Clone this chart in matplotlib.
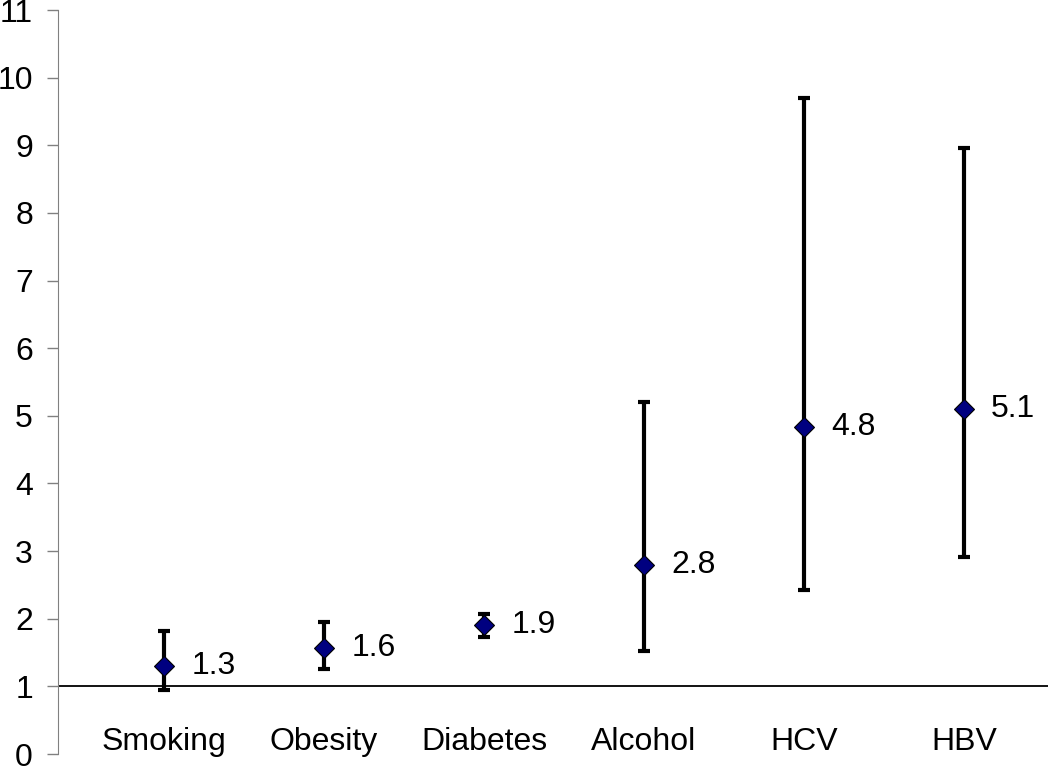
import matplotlib
matplotlib.use("Agg")
import matplotlib.pyplot as plt
import numpy as np

# Risk factors with point estimate and confidence interval
categories = ["Smoking", "Obesity", "Diabetes", "Alcohol", "HCV", "HBV"]
estimates = [1.3, 1.56, 1.9, 2.8, 4.84, 5.1]
labels = ["1.3", "1.6", "1.9", "2.8", "4.8", "5.1"]
lower = [0.95, 1.25, 1.73, 1.52, 2.42, 2.91]
upper = [1.82, 1.95, 2.07, 5.2, 9.7, 8.96]

plt.rcParams['font.family'] = ['Liberation Sans', 'DejaVu Sans']

fig = plt.figure(figsize=(10.5, 7.68), dpi=100)
ax = fig.add_axes([58 / 1050, 14 / 768, 990 / 1050, 744 / 768])

x = np.arange(1, len(categories) + 1)
est = np.array(estimates)
yerr = [est - np.array(lower), np.array(upper) - est]

ax.axhline(1, color='black', lw=1.3, zorder=1)
ax.errorbar(x, est, yerr=yerr, fmt='none', ecolor='black', elinewidth=3,
            capsize=4, capthick=3, zorder=2)
ax.plot(x, est, 'D', ms=10, mfc='#000080', mec='black', mew=0.8, zorder=3)

for xi, yi, lab in zip(x, est, labels):
    ax.text(xi + 0.17, yi, lab, fontsize=23, ha='left', va='center')

for xi, cat in zip(x, categories):
    ax.text(xi, 0.18, cat, fontsize=23, ha='center', va='center')

ax.set_xlim(0.3375, 6.525)
ax.set_ylim(0, 11)
ax.set_yticks(range(0, 12))
ax.set_xticks([])
ax.tick_params(axis='y', direction='out', length=8, width=1, color='#808080',
               labelsize=23, pad=10)
for side in ['top', 'right', 'bottom']:
    ax.spines[side].set_visible(False)
ax.spines['left'].set_color('#808080')

fig.savefig("out.png", dpi=100)
